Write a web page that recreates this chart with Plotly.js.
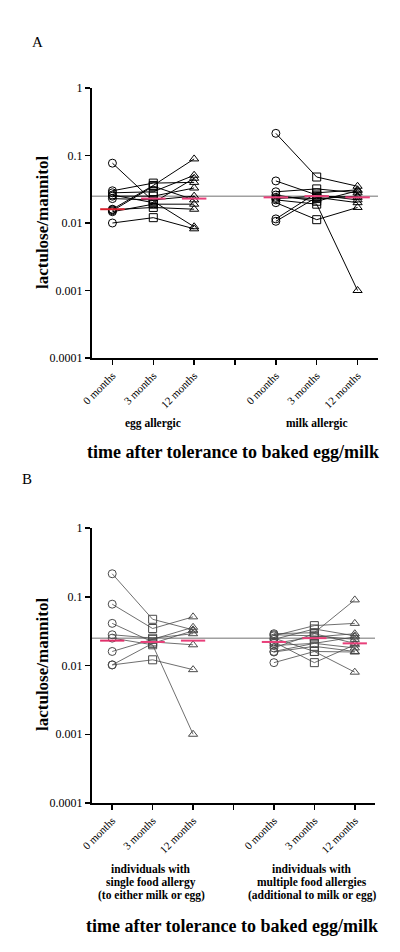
<!DOCTYPE html>
<html>
<head>
<meta charset="utf-8">
<script src="https://cdn.plot.ly/plotly-3.0.1.min.js"></script>
<style>html,body{margin:0;padding:0;background:#fff}#chart{width:400px;height:952px}</style>
</head>
<body>
<div id="chart"></div>
<script>
// ---- data ----
const months = ["0 months", "3 months", "12 months"];
const refValue = 0.025;

// Panel A: egg allergic (x = 1,2,3)
const egg0  = [0.077, 0.016, 0.010, 0.030, 0.028, 0.026, 0.025, 0.023, 0.0157, 0.0147, 0.0152];
const egg3  = [0.021, 0.036, 0.012, 0.039, 0.029, 0.020, 0.025, 0.022, 0.017, 0.019, 0.035];
const egg12 = [0.0088, 0.089, 0.0082, 0.040, 0.051, 0.046, 0.033, 0.025, 0.016, 0.019, 0.022];
const eggMedian = [0.016, 0.023, 0.023];

// Panel A: milk allergic (x = 5,6,7)
const milk0  = [0.213, 0.042, 0.029, 0.026, 0.024, 0.022, 0.020, 0.0115, 0.0106, 0.023];
const milk3  = [0.048, 0.026, 0.032, 0.021, 0.023, 0.019, 0.0112, 0.028, 0.024, 0.025];
const milk12 = [0.035, 0.022, 0.028, 0.030, 0.025, 0.001, 0.017, 0.031, 0.020, 0.024];
const milkMedian = [0.024, 0.025, 0.024];

// Panel B: single food allergy (x = 1,2,3)
const single0  = [0.216, 0.078, 0.041, 0.028, 0.025, 0.016, 0.0102, 0.0102];
const single3  = [0.047, 0.0345, 0.022, 0.025, 0.020, 0.024, 0.0121, 0.021];
const single12 = [0.033, 0.051, 0.020, 0.029, 0.001, 0.036, 0.0087, 0.032];
const singleMedian = [0.023, 0.022, 0.023];

// Panel B: multiple food allergies (x = 5,6,7)
const multi0  = [0.029, 0.027, 0.021, 0.0195, 0.018, 0.0157, 0.011, 0.022, 0.025, 0.024, 0.016, 0.028];
const multi3  = [0.030, 0.038, 0.026, 0.021, 0.029, 0.019, 0.016, 0.011, 0.016, 0.034, 0.021, 0.027];
const multi12 = [0.090, 0.041, 0.029, 0.026, 0.021, 0.016, 0.0157, 0.020, 0.008, 0.027, 0.018, 0.024];
const multiMedian = [0.022, 0.025, 0.021];

const xTickVals = [1, 2, 3, 4, 5, 6, 7];
const xTickText = [months[0], months[1], months[2], "", months[0], months[1], months[2]];
const yTickVals = [0.0001, 0.001, 0.01, 0.1, 1];
const yTickText = ["0.0001", "0.001", "0.01", "0.1", "1"];

const singleLabel = ["individuals with", "single food allergy", "(to either milk or egg)"];
const multiLabel = ["individuals with", "multiple food allergies", "(additional to milk or egg)"];

// ---- build traces ----
const symbols = ["circle-open", "square-open", "triangle-up-open"];
const traces = [];

function refLine(xa, ya) {
  traces.push({x: [0.5, 7.5], y: [refValue, refValue], xaxis: xa, yaxis: ya, mode: "lines",
    line: {color: "#a0a0a0", width: 1.5}, hoverinfo: "skip", showlegend: false});
}
function subjects(a0, a3, a12, xs, xa, ya, color, lw) {
  for (let i = 0; i < a0.length; i++) {
    traces.push({x: xs, y: [a0[i], a3[i], a12[i]], xaxis: xa, yaxis: ya, mode: "lines+markers",
      line: {color: color, width: lw},
      marker: {symbol: symbols, size: 8, color: color, line: {color: color, width: 1}},
      showlegend: false});
  }
}
function medians(med, xs, xa, ya, colors) {
  for (let i = 0; i < med.length; i++) {
    traces.push({x: [xs[i] - 0.3, xs[i] + 0.3], y: [med[i], med[i]], xaxis: xa, yaxis: ya, mode: "lines",
      line: {color: colors[i], width: 2}, hoverinfo: "skip", showlegend: false});
  }
}

refLine("x", "y");
subjects(egg0, egg3, egg12, [1, 2, 3], "x", "y", "#000000", 1);
subjects(milk0, milk3, milk12, [5, 6, 7], "x", "y", "#000000", 1);
medians(eggMedian, [1, 2, 3], "x", "y", ["#d8202c", "#e8407a", "#e8407a"]);
medians(milkMedian, [5, 6, 7], "x", "y", ["#e8407a", "#e8407a", "#e8407a"]);

refLine("x2", "y2");
subjects(single0, single3, single12, [1, 2, 3], "x2", "y2", "#4a4a4a", 0.8);
subjects(multi0, multi3, multi12, [5, 6, 7], "x2", "y2", "#4a4a4a", 0.8);
medians(singleMedian, [1, 2, 3], "x2", "y2", ["#e0306a", "#e8407a", "#e8407a"]);
medians(multiMedian, [5, 6, 7], "x2", "y2", ["#e8407a", "#e8407a", "#e8407a"]);

// ---- layout ----
const serif = "Liberation Serif";
function xAxis(anchor, domain) {
  return {domain: domain, anchor: anchor, range: [0.5, 7.5], showgrid: false, zeroline: false,
    showline: true, linecolor: "#000", linewidth: 2, ticks: "outside", ticklen: 5, tickwidth: 1.5,
    tickcolor: "#000", tickvals: xTickVals, ticktext: xTickText, tickangle: -45,
    tickfont: {family: serif, size: 11, color: "#000"}};
}
function yAxis(anchor, domain) {
  return {domain: domain, anchor: anchor, type: "log", range: [-4, 0], showgrid: false, zeroline: false,
    showline: true, linecolor: "#000", linewidth: 2, ticks: "outside", ticklen: 5, tickwidth: 1.5,
    tickcolor: "#000", tickvals: yTickVals, ticktext: yTickText,
    tickfont: {family: serif, size: 12, color: "#000"}};
}

const groupFont = {family: serif, size: 11.5, color: "#000"};
const titleFont = {family: serif, size: 18, color: "#000"};
function ann(text, x, xref, yPx, font, extra) {
  return Object.assign({text: text, x: x, xref: xref, y: 1 - yPx / 952, yref: "paper", showarrow: false,
    xanchor: "center", yanchor: "middle", font: font}, extra || {});
}
const annotations = [
  ann("A", 37 / 400, "paper", 42, {family: serif, size: 15, color: "#000"}),
  ann("B", 27 / 400, "paper", 479, {family: serif, size: 15, color: "#000"}),
  ann("<b>lactulose/mannitol</b>", 42 / 400, "paper", 223, {family: serif, size: 17, color: "#000"}, {textangle: -90}),
  ann("<b>lactulose/mannitol</b>", 42 / 400, "paper", 665, {family: serif, size: 17, color: "#000"}, {textangle: -90}),
  ann("<b>egg allergic</b>", 2, "x", 423, groupFont),
  ann("<b>milk allergic</b>", 6, "x", 423, groupFont),
  ann("<b>time after tolerance to baked egg/milk</b>", 233 / 400, "paper", 452, titleFont),
  ann("<b>time after tolerance to baked egg/milk</b>", 232 / 400, "paper", 926, titleFont)
];
const lineY = [869, 882, 895];
for (let i = 0; i < 3; i++) {
  annotations.push(ann("<b>" + singleLabel[i] + "</b>", 151 / 400, "paper", lineY[i], groupFont));
  annotations.push(ann("<b>" + multiLabel[i] + "</b>", 312 / 400, "paper", lineY[i], groupFont));
}

const layout = {
  width: 400, height: 952, margin: {l: 0, r: 0, t: 0, b: 0},
  paper_bgcolor: "#fff", plot_bgcolor: "#fff", showlegend: false,
  font: {family: serif},
  xaxis: xAxis("y", [92 / 400, 378 / 400]),
  yaxis: yAxis("x", [1 - 358 / 952, 1 - 88 / 952]),
  xaxis2: xAxis("y2", [92 / 400, 375 / 400]),
  yaxis2: yAxis("x2", [1 - 803 / 952, 1 - 528 / 952]),
  annotations: annotations
};

Plotly.newPlot("chart", traces, layout, {displayModeBar: false, staticPlot: true});
</script>
</body>
</html>
